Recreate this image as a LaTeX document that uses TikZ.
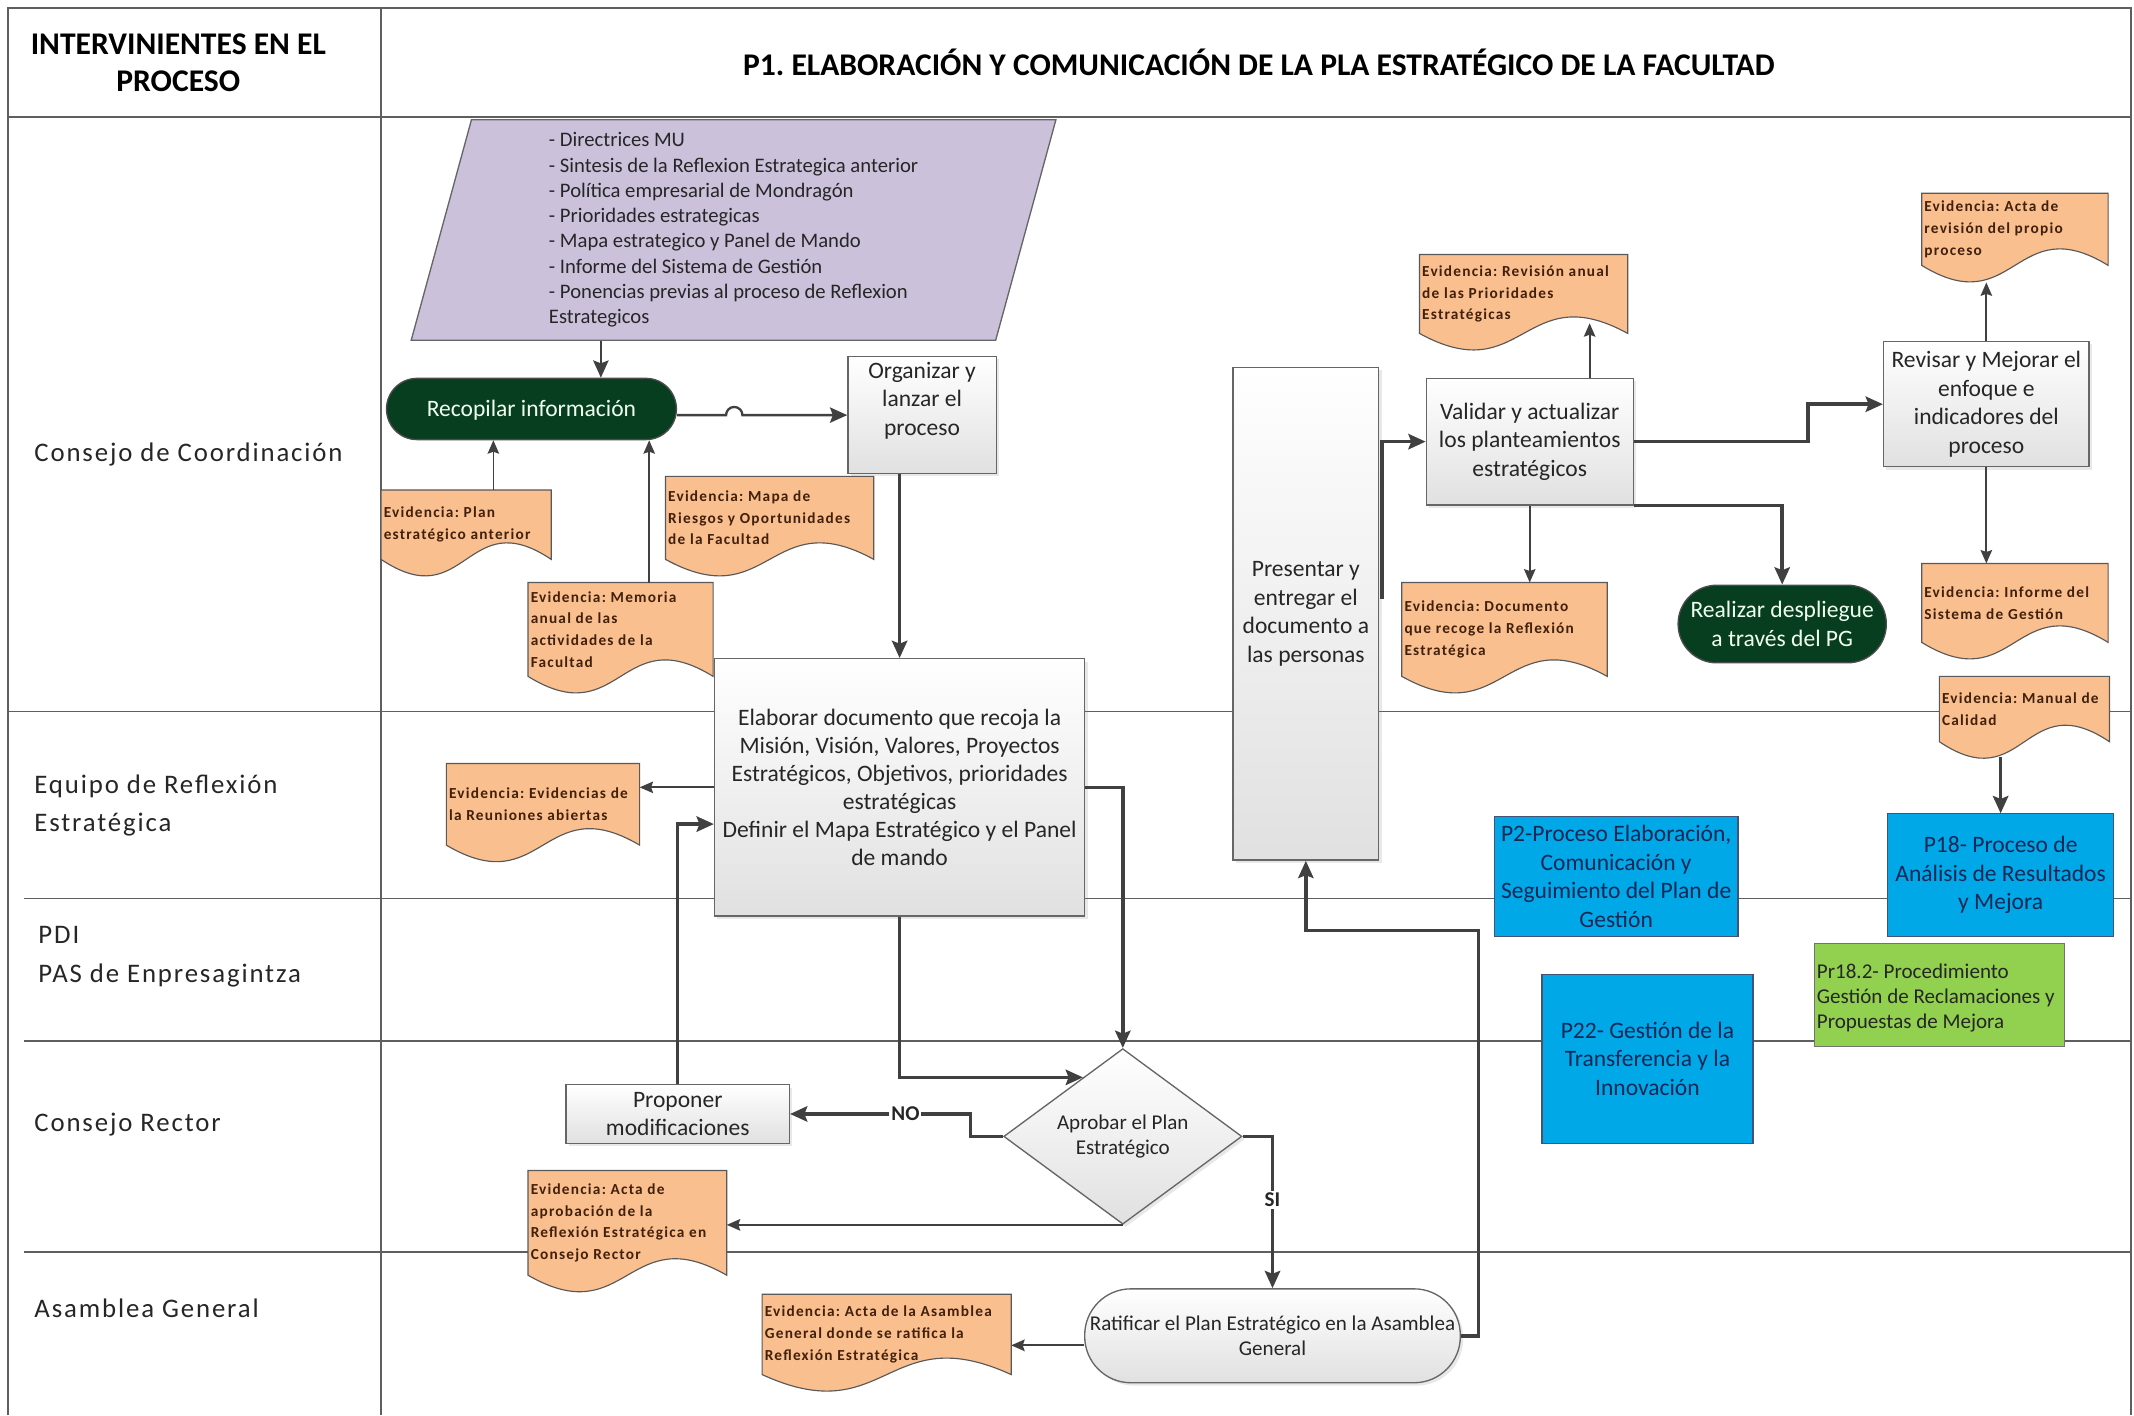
\documentclass[tikz,border=0pt]{standalone}
\usepackage{fontspec}
\setmainfont{Carlito}
\newfontfamily\lanefamily[LetterSpace=7]{Carlito}
\newfontfamily\evfamily[LetterSpace=8]{Carlito}
\frenchspacing
\usepackage{tikz}
\usetikzlibrary{arrows.meta,backgrounds,calc,positioning,shadows,shapes.geometric}
\definecolor{linegray}{RGB}{64,64,64}
\definecolor{framegray}{RGB}{95,95,95}
\definecolor{evfill}{RGB}{250,191,143}
\definecolor{evtext}{RGB}{65,32,12}
\definecolor{inputfill}{RGB}{204,193,219}
\definecolor{dkgreen}{RGB}{8,62,32}
\definecolor{pblue}{RGB}{0,168,232}
\definecolor{pbluetext}{RGB}{20,40,85}
\definecolor{pgreen}{RGB}{146,208,80}
\tikzset{
	swim lanes/.style={
		x=0.025cm, y=-0.025cm,
		corners/.style n args={4}{at={($(##1,##2)!0.5!(##3,##4)$)},
			minimum width={(##3-##1)*0.025cm}, minimum height={(##4-##2)*0.025cm}},
		evcorners/.code n args={4}{\pgfmathsetlengthmacro\evtw{(##3-##1-4)*0.025cm}%
			\pgfkeysalso{/tikz/corners={##1}{##2}{##3}{##4}, /tikz/text width=\evtw}},
		lower/.style={execute at begin node={\rule{0pt}{##1}}},
		raise/.style={execute at end node={\rule[-##1]{0pt}{1pt}}},
		frame/.style={draw=framegray, line width=0.9pt},
		lane/.style={draw=framegray, line width=0.7pt},
		lane label/.style={anchor=west, inner sep=0pt, align=left, text=black!85,
			font=\lanefamily\fontsize{14}{20}\selectfont},
		hdr/.style={align=center, font=\bfseries\fontsize{16.5}{19.2}\selectfont},
		proc/.style={draw=black!60, line width=0.7pt, top color=white, bottom color=black!12,
			inner sep=0pt, align=center, text=black!85, font=\fontsize{12.3}{15}\selectfont,
			drop shadow={opacity=0.18, shadow xshift=1.5pt, shadow yshift=-1.5pt}},
		term/.style={fill=dkgreen, draw=black!70, line width=0.7pt, rounded corners=##1,
			inner sep=0pt, align=center, text=green!6, font=\fontsize{12.3}{15}\selectfont},
		inputdata/.style={trapezium, trapezium left angle=77.7, trapezium right angle=102.3,
			trapezium stretches=true, fill=inputfill, draw=black!60, line width=0.7pt,
			inner sep=0pt, align=left, text=black!85, font=\fontsize{10.8}{13.2}\selectfont},
		evid/.style={rectangle, inner sep=0pt, outer sep=0pt, align=flush left, text=evtext,
			font=\evfamily\bfseries\fontsize{8}{11.3}\selectfont},
		evshape/.style={fill=evfill, draw=black!65, line width=0.6pt},
		subproc/.style={fill=pblue, draw=pbluetext!80, line width=0.6pt, inner sep=0pt,
			align=center, text=pbluetext, font=\fontsize{12.3}{15}\selectfont},
		flow/.style={draw=linegray, line width=1.8pt, -{Stealth[length=9pt,width=8pt,inset=1.5pt]}},
		evarrow/.style={draw=linegray, line width=0.9pt, -{Stealth[length=7pt,width=6pt,inset=1pt]}},
		branch/.style={fill=white, inner sep=1pt, text=black!85, font=\bfseries\fontsize{11}{13}\selectfont}
	}
}
\begin{document}
\begin{tikzpicture}[swim lanes]
	\useasboundingbox (0,0) rectangle (1568,1040);
	\begin{scope}[on background layer]
		\draw[frame] (6,1040) -- (6,6) -- (1566,6) -- (1566,1040);
		\draw[frame] (6,86) -- (1566,86);
		\draw[frame] (280,6) -- (280,1040);
		\draw[lane] (6,523) -- (1566,523);
		\foreach \y in {660,765,920} \draw[lane] (18,\y) -- (1566,\y);
	\end{scope}
	\node[hdr] (hdrInt) at (131,46) {INTERVINIENTES EN EL\\PROCESO};
	\node[hdr] (hdrTit) at (925,46) {P1. ELABORACIÓN Y COMUNICACIÓN DE LA PLA ESTRATÉGICO DE LA FACULTAD};
	\node[lane label] (lnCC) at (25,334) {Consejo de Coordinación};
	\node[lane label] (lnER) at (25,592) {Equipo de Reflexión\\Estratégica};
	\node[lane label] (lnPDI) at (28,703) {PDI\\PAS de Enpresagintza};
	\node[lane label] (lnCR) at (25,826) {Consejo Rector};
	\node[lane label] (lnAG) at (25,961) {Asamblea General};
	\node[inputdata, minimum width=11.85cm, minimum height=4.05cm] (entradas) at (539,169)
		{- Directrices MU\\- Sintesis de la Reflexion Estrategica anterior\\- Política empresarial de Mondragón\\- Prioridades estrategicas\\- Mapa estrategico y Panel de Mando\\- Informe del Sistema de Gestión\\- Ponencias previas al proceso de Reflexion\\Estrategicos};
	\node[term=0.56cm, lower=10pt, corners={284}{278}{497}{323}] (recopilar) {Recopilar información};
	\node[proc, raise=17pt, corners={623}{262}{732}{348}] (organizar) {Organizar y\\lanzar el\\proceso};
	\node[proc, lower=19pt, corners={525}{484}{797}{673}, font=\fontsize{12.3}{14.7}\selectfont] (elab)
		{Elaborar documento que recoja la\\Misión, Visión, Valores, Proyectos\\Estratégicos, Objetivos, prioridades\\estratégicas\\Definir el Mapa Estratégico y el Panel\\de mando};
	\node[proc, lower=19pt, corners={906}{270}{1013}{632}] (presentar) {Presentar y\\entregar el\\documento a\\las personas};
	\node[proc, lower=19pt, corners={1048}{278}{1200}{371}] (validar) {Validar y actualizar\\los planteamientos\\estratégicos};
	\node[proc, lower=19pt, corners={1384}{251}{1535}{343}] (revisar) {Revisar y Mejorar el\\enfoque e\\indicadores del\\proceso};
	\node[term=0.71cm, lower=19pt, corners={1233}{430}{1386}{487}] (realizar) {Realizar despliegue\\a través del PG};
	\node[proc, lower=19pt, corners={416}{797}{580}{840}, font=\fontsize{12.3}{14.3}\selectfont] (proponer) {Proponer\\modificaciones};
	\node[proc, diamond, minimum width=4.375cm, minimum height=2.675cm, font=\fontsize{11}{13.5}\selectfont] (dec) at (825,835) {Aprobar el Plan\\Estratégico};
	\node[proc, rounded corners=0.85cm, lower=16.5pt, corners={797}{947}{1073}{1016}, font=\fontsize{11}{13}\selectfont] (ratificar) {Ratificar el Plan Estratégico en la Asamblea\\General};
	\node[subproc, lower=17pt, corners={1098}{600}{1277}{688}] (ptwo) {P2-Proceso Elaboración,\\Comunicación y\\Seguimiento del Plan de\\Gestión};
	\node[subproc, lower=19pt, corners={1387}{598}{1553}{688}] (peighteen) {P18- Proceso de\\Análisis de Resultados\\y Mejora};
	\node[subproc, lower=19pt, corners={1133}{716}{1288}{840}] (ptwentytwo) {P22- Gestión de la\\Transferencia y la\\Innovación};
	\node[subproc, fill=pgreen, draw=black!55, text=black!85, align=flush left, text width=4.5cm, lower=11pt, corners={1333}{693}{1517}{769}, font=\fontsize{11}{13.2}\selectfont] (prproc) {Pr18.2- Procedimiento\\Gestión de Reclamaciones y\\Propuestas de Mejora};
	\node[evid, evcorners={280}{360}{405}{411}] (plan) {Evidencia: Plan\\estratégico anterior};
	\node[evid, evcorners={388}{428}{524}{497}] (memoria) {Evidencia: Memoria\\anual de las\\actividades de la\\Facultad};
	\node[evid, evcorners={489}{350}{642}{411}] (mapa) {Evidencia: Mapa de\\Riesgos y Oportunidades\\de la Facultad};
	\node[evid, evcorners={328}{561}{470}{621}] (reuniones) {Evidencia: Evidencias de\\la Reuniones abiertas};
	\node[evid, evcorners={1043}{187}{1196}{245}] (revision) {Evidencia: Revisión anual\\de las Prioridades\\Estratégicas};
	\node[evid, evcorners={1030}{428}{1181}{497}] (documento) {Evidencia: Documento\\que recoge la Reflexión\\Estratégica};
	\node[evid, evcorners={1412}{142}{1549}{195}] (actarev) {Evidencia: Acta de\\revisión del propio\\proceso};
	\node[evid, evcorners={1412}{414}{1549}{472}] (informe) {Evidencia: Informe del\\Sistema de Gestión};
	\node[evid, evcorners={1425}{497}{1550}{545}] (manual) {Evidencia: Manual de\\Calidad};
	\node[evid, evcorners={388}{860}{534}{937}] (actaaprob) {Evidencia: Acta de\\aprobación de la\\Reflexión Estratégica en\\Consejo Rector};
	\node[evid, evcorners={560}{951}{743}{1010}] (actaasamb) {Evidencia: Acta de la Asamblea\\General donde se ratifica la\\Reflexión Estratégica};
	\begin{scope}[on background layer]
		\foreach \ev in {plan,memoria,mapa,reuniones,revision,documento,actarev,informe,manual,actaaprob,actaasamb}
			\draw[evshape] (\ev.north west) -- (\ev.north east) -- (\ev.south east)
				.. controls ($(\ev.south)+(0,-42)$) and ($(\ev.south)+(0,42)$) .. (\ev.south west) -- cycle;
	\end{scope}
	\coordinate (rin) at ($(recopilar.north)+(51,0)$);
	\draw[flow, line width=1.2pt] (entradas.south -| rin) -- (rin);
	\draw[evarrow] ([xshift=0.5cm]plan.north) -- ([xshift=0.5cm]plan.north |- recopilar.south);
	\draw[evarrow] ([xshift=0.525cm]memoria.north) -- ([xshift=0.525cm]memoria.north |- recopilar.south);
	\draw[flow, line width=1.2pt] (recopilar.east |- organizar.west) -- ++(36,0)
		arc[start angle=180, end angle=0, radius=0.15cm] -- (organizar.west);
	\draw[flow] (organizar.south -| elab.north) -- (elab.north);
	\draw[evarrow] (elab.west) -- (elab.west -| reuniones.east);
	\draw[flow] (proponer.north) |- ($(elab.west)+(0,27)$);
	\draw[flow] (elab.east) -| (dec.north);
	\draw[flow] (elab.south) |- (dec.124);
	\draw[flow] (dec.west) -- ++(-24,0) |- node[branch, pos=0.68] {NO} (proponer.east);
	\draw[flow] (dec.east) -| node[branch, pos=0.71] {SI} (ratificar.north);
	\draw[evarrow, line width=1.2pt] (dec.south) -- (dec.south -| actaaprob.east);
	\draw[evarrow, line width=1.2pt] ([yshift=-0.175cm]ratificar.west) -- ([yshift=-0.175cm]ratificar.west -| actaasamb.east);
	\draw[flow] (ratificar.east) -- ++(13,0) |- ($(presentar.south)+(0,51)$) -- (presentar.south);
	\draw[flow] ($(presentar.east)+(2,-11)$) |- (validar.west);
	\draw[evarrow] ([xshift=1.1cm]validar.north) -- ++(0,-40);
	\draw[evarrow] (validar.south) -- (validar.south |- documento.north);
	\draw[flow] (validar.east) -- ++(128,0) |- (revisar.west);
	\draw[flow] (validar.south east) -| (realizar.north);
	\draw[evarrow] (revisar.north) -- ++(0,-43);
	\draw[evarrow] (revisar.south) -- (revisar.south |- informe.north);
	\draw[flow] ($(peighteen.north)+(0,-41)$) -- (peighteen.north);
\end{tikzpicture}
\end{document}
